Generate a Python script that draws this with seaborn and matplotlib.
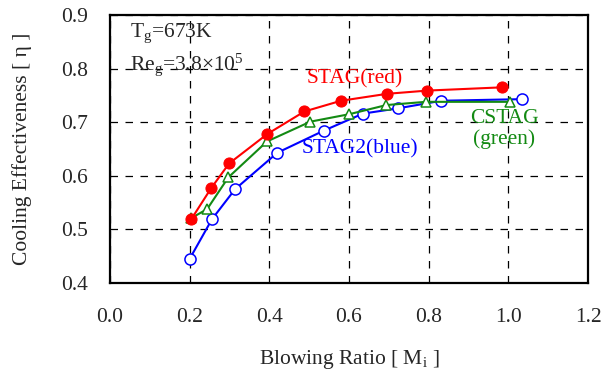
import matplotlib
matplotlib.use("Agg")
import matplotlib.pyplot as plt
import seaborn as sns
import pandas as pd

# Blowing ratio vs. cooling effectiveness for three vane configurations
stag_m = [0.204, 0.254, 0.299, 0.395, 0.488, 0.580, 0.696, 0.797, 0.983]
stag_eta = [0.519, 0.577, 0.623, 0.678, 0.720, 0.740, 0.753, 0.759, 0.765]

cstag_m = [0.204, 0.244, 0.297, 0.394, 0.503, 0.601, 0.694, 0.793, 1.003]
cstag_eta = [0.521, 0.538, 0.597, 0.664, 0.701, 0.715, 0.732, 0.738, 0.738]

stag2_m = [0.200, 0.256, 0.314, 0.420, 0.536, 0.635, 0.724, 0.832, 1.034]
stag2_eta = [0.445, 0.519, 0.575, 0.643, 0.684, 0.716, 0.726, 0.740, 0.743]

x_ticks = [0.0, 0.2, 0.4, 0.6, 0.8, 1.0, 1.2]
y_ticks = [0.4, 0.5, 0.6, 0.7, 0.8, 0.9]

sns.set_style("white")
plt.rcParams["font.family"] = ["Liberation Serif", "DejaVu Serif"]
plt.rcParams["mathtext.fontset"] = "custom"
plt.rcParams["mathtext.rm"] = "Liberation Serif"
plt.rcParams["mathtext.it"] = "Liberation Serif:italic"

FS = 15.5

fig = plt.figure(figsize=(6.02, 3.76), dpi=100)
ax = fig.add_axes([110 / 602, 1 - 283 / 376, 478 / 602, 268 / 376])

red = "#ff0000"
green = "#138a13"
blue = "#0000ff"

df_stag = pd.DataFrame({"M": stag_m, "eta": stag_eta})
df_cstag = pd.DataFrame({"M": cstag_m, "eta": cstag_eta})
df_stag2 = pd.DataFrame({"M": stag2_m, "eta": stag2_eta})

sns.lineplot(data=df_stag2, x="M", y="eta", ax=ax, color=blue, lw=1.5,
             marker="o", markersize=8, markerfacecolor="white",
             markeredgecolor=blue, markeredgewidth=1.1, zorder=3)
sns.lineplot(data=df_cstag, x="M", y="eta", ax=ax, color=green, lw=1.5,
             marker="^", markersize=7.5, markerfacecolor="white",
             markeredgecolor=green, markeredgewidth=1.1, zorder=4)
sns.lineplot(data=df_stag, x="M", y="eta", ax=ax, color=red, lw=1.5,
             marker="o", markersize=8, markerfacecolor=red,
             markeredgecolor=red, zorder=5)

ax.set_xlim(0.0, 1.2)
ax.set_ylim(0.4, 0.9)
ax.set_xticks(x_ticks)
ax.set_yticks(y_ticks)
ax.set_xticklabels([f"{v:.1f}" for v in x_ticks], fontsize=FS)
ax.set_yticklabels([f"{v:.1f}" for v in y_ticks], fontsize=FS)
ax.tick_params(axis="x", direction="in", length=5, width=1.2,
               color="black", pad=18)
ax.tick_params(axis="y", direction="in", length=5, width=1.2,
               color="black", pad=16)

ax.grid(True, color="black", linestyle=(0, (6, 6)), linewidth=0.9)
for s in ax.spines.values():
    s.set_color("black")
    s.set_linewidth(1.6)

ax.set_xlabel("Blowing Ratio [ M$_\\mathrm{i}$ ]", fontsize=FS, labelpad=15)
ax.set_ylabel("Cooling Effectiveness [ η ]", fontsize=FS, labelpad=21)

ax.text(0.05, 0.866, "T$_\\mathrm{g}$=673K", fontsize=FS, va="center", ha="left")
ax.text(0.05, 0.807, "Re$_\\mathrm{g}$=3.8×10$^\\mathrm{5}$", fontsize=FS,
        va="center", ha="left")
ax.text(0.615, 0.781, "STAG(red)", fontsize=FS, color=red, ha="center", va="center")
ax.text(0.627, 0.650, "STAG2(blue)", fontsize=FS, color=blue, ha="center", va="center")
ax.text(0.99, 0.687, "CSTAG\n(green)", fontsize=FS, color=green, ha="center",
        va="center", linespacing=1.1)

fig.savefig("out.png", dpi=100)
